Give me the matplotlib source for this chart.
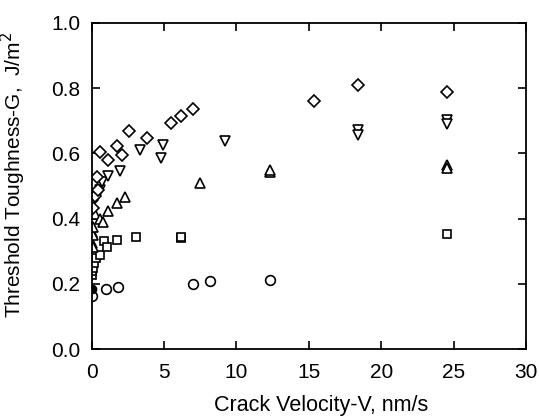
import matplotlib
matplotlib.use("Agg")
from matplotlib import pyplot as plt

plt.rcParams['font.family'] = ['Liberation Sans', 'DejaVu Sans']

# diamonds
dia_v = [0.0, 0.07, 0.23, 0.45, 0.35, 0.6, 1.1, 1.72, 2.07, 2.58, 3.8, 5.48, 6.17, 7.02, 15.35, 18.41, 24.56]
dia_g = [0.457, 0.431, 0.47, 0.488, 0.527, 0.605, 0.58, 0.623, 0.595, 0.669, 0.646, 0.694, 0.715, 0.735, 0.761, 0.81, 0.787]
# down triangles
dn_v = [0.3, 0.45, 0.57, 0.69, 1.15, 1.98, 3.34, 4.79, 4.93, 9.2, 18.41, 18.41, 24.56, 24.56]
dn_g = [0.465, 0.475, 0.488, 0.513, 0.530, 0.545, 0.61, 0.585, 0.626, 0.639, 0.672, 0.656, 0.702, 0.69]
# up triangles
up_v = [0.0, 0.1, 0.0, 0.1, 0.1, 0.25, 0.57, 0.76, 1.15, 1.72, 2.3, 7.5, 12.3, 12.3, 24.56, 24.56]
up_g = [0.325, 0.314, 0.36, 0.35, 0.374, 0.415, 0.40, 0.39, 0.423, 0.447, 0.465, 0.508, 0.544, 0.55, 0.564, 0.555]
# squares
sq_v = [0.05, 0.05, 0.1, 0.15, 0.3, 0.57, 0.85, 1.08, 1.77, 3.06, 6.17, 6.17, 24.56]
sq_g = [0.228, 0.24, 0.248, 0.263, 0.28, 0.288, 0.33, 0.314, 0.334, 0.345, 0.34, 0.345, 0.352]
# circles
ci_v = [0.0, 0.97, 1.84, 7.02, 8.19, 12.31]
ci_g = [0.164, 0.184, 0.191, 0.198, 0.208, 0.211]
# filled point
fi_v = [0.05]
fi_g = [0.185]

fig = plt.figure(figsize=(5.39, 4.17), dpi=100)
ax = fig.add_axes([0.170, 0.163, 0.806, 0.782])

kw = dict(linestyle='none', markerfacecolor='white', markeredgecolor='black', markeredgewidth=1.2)
ax.plot(sq_v, sq_g, marker='s', markersize=6, **kw)
ax.plot(ci_v, ci_g, marker='o', markersize=7, **kw)
ax.plot(up_v, up_g, marker='^', markersize=7, **kw)
ax.plot(dn_v, dn_g, marker='v', markersize=7, **kw)
ax.plot(dia_v, dia_g, marker='D', markersize=6, **kw)
ax.plot(fi_v, fi_g, marker='o', markersize=6, linestyle='none', color='black')

ax.set_xlim(0, 30)
ax.set_ylim(0, 1.0)
ax.set_xticks([0, 5, 10, 15, 20, 25, 30])
ax.set_yticks([0.0, 0.2, 0.4, 0.6, 0.8, 1.0])
ax.set_yticklabels(['0.0', '0.2', '0.4', '0.6', '0.8', '1.0'])
ax.tick_params(direction='in', length=6, width=1.2, labelsize=15, top=True, right=True)
ax.tick_params(axis='x', pad=10)
ax.tick_params(axis='y', pad=8)
for sp in ax.spines.values():
    sp.set_linewidth(1.3)
ax.set_xlabel('Crack Velocity-V, nm/s', fontsize=15.5)
ax.set_ylabel('Threshold Toughness-G,  J/m$^2$', fontsize=15)
ax.xaxis.set_label_coords(0.528, -0.142)
ax.yaxis.set_label_coords(-0.147, 0.534)

fig.savefig('out.png', dpi=100)
